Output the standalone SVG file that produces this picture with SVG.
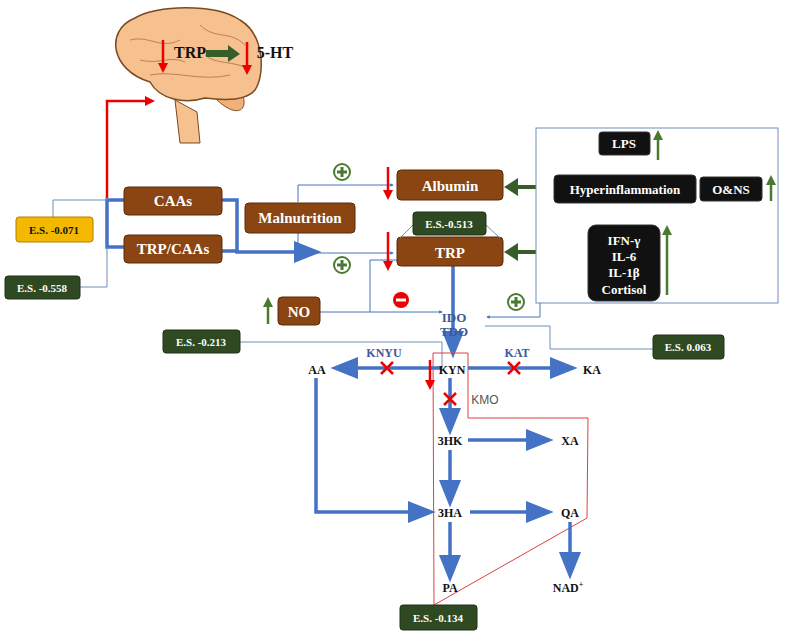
<svg xmlns="http://www.w3.org/2000/svg" width="789" height="639" viewBox="0 0 789 639">
<defs>
<style>
text{font-family:"Liberation Serif",serif;font-weight:bold}
.bx{fill:#8B4513;stroke:#5a2a0a;stroke-width:1}
.bt{fill:#fff;font-size:15px;text-anchor:middle}
.blk{fill:#111;stroke:#333}
.wt{fill:#fff;font-size:13px;text-anchor:middle}
.es{fill:#2f4a22;stroke:#1e3316}
.est{fill:#fff;font-size:11px;text-anchor:middle}
.k{fill:#111;font-size:12px;text-anchor:middle}
.thick{stroke:#4472C4;stroke-width:3.5;fill:none}
.thin{stroke:#4472C4;stroke-width:1;fill:none}
.thinb{stroke:#6d8fb8;stroke-width:1;fill:none}
.red{stroke:#e00;stroke-width:2.5;fill:none}
.grn{stroke:#4a7a30;stroke-width:2.5;fill:none}
.gold{stroke:#c8900a;stroke-width:3;fill:none}
.x{stroke:#e00;stroke-width:2.5}
.enz{fill:#3b5a9a;font-size:12px;text-anchor:middle}
</style>
<marker id="ab" viewBox="0 0 10 10" refX="8" refY="5" markerWidth="3.5" markerHeight="3.5" orient="auto"><path d="M0,0L10,5L0,10z" fill="#4472C4"/></marker>
<marker id="at" viewBox="0 0 10 10" refX="8" refY="5" markerWidth="8" markerHeight="8" orient="auto"><path d="M0,1L10,5L0,9z" fill="#4472C4"/></marker>
<marker id="ar" viewBox="0 0 10 10" refX="5" refY="5" markerWidth="4" markerHeight="4" orient="auto"><path d="M0,0L10,5L0,10z" fill="#e00"/></marker>
<marker id="ag" viewBox="0 0 10 10" refX="5" refY="5" markerWidth="4" markerHeight="4" orient="auto"><path d="M0,0L10,5L0,10z" fill="#4a7a30"/></marker>
<marker id="ao" viewBox="0 0 10 10" refX="5" refY="5" markerWidth="3.5" markerHeight="3.5" orient="auto"><path d="M0,0L10,5L0,10z" fill="#c8900a"/></marker>
</defs>

<g id="brain">
<path d="M175,100 L180,143 L200,143 L197,112 Z" fill="#f6c08f" stroke="#7a4a20"/>
<path d="M215,98 C235,118 248,112 243,96 Z" fill="#f0b07a" stroke="#7a4a20"/>
<path d="M150,82 C110,70 105,30 135,18 C155,5 215,3 240,20 C265,35 265,75 255,90 C245,102 220,100 205,98 C185,104 160,100 150,82 Z" fill="#f6c08f" stroke="#7a4a20" stroke-width="1.5"/>
<path d="M130,40 C150,35 160,50 180,40 M200,25 C215,40 230,30 245,45 M150,75 C175,70 200,82 230,75 M140,60 C160,65 170,55 185,62 M205,55 C215,65 235,60 250,70" stroke="#b07040" fill="none" stroke-width="0.8"/>
<line x1="163" y1="40" x2="163" y2="68" class="red" marker-end="url(#ar)"/>
<line x1="247" y1="42" x2="247" y2="70" class="red" marker-end="url(#ar)"/>
<text x="190" y="58" style="font-size:16px;fill:#111;text-anchor:middle">TRP</text>
<path d="M206,50 L228,50 L228,45 L240,54 L228,62 L228,57 L206,57 Z" fill="#355e2b"/>
<text x="275" y="58" style="font-size:16px;fill:#111;text-anchor:middle">5-HT</text>
</g>

<g id="connectors">
<polyline points="107,198 107,101 150,101" class="red" marker-end="url(#ar)"/>
<polyline points="124,200 107,200 107,247 124,247" class="thick"/>
<polyline points="53,217 53,200 107,200" class="thinb"/>
<polyline points="80,287 107,287 107,247" class="thinb"/>
<polyline points="222,200 237,200 237,252 316,252" class="thick" marker-end="url(#at)"/>
<line x1="222" y1="251" x2="237" y2="251" class="thick"/>
<polyline points="298,202 298,185 393,185" class="thin" marker-end="url(#ab)"/>
<polyline points="298,232 298,253 393,253" class="thin" marker-end="url(#ab)"/>
<polyline points="397,260 370,260 370,312" class="thin"/>
<line x1="320" y1="312" x2="442" y2="312" class="thin" marker-end="url(#ab)"/>
<line x1="453" y1="266" x2="453" y2="353" class="thick" marker-end="url(#at)"/>
<polyline points="540,303 540,317 487,317" class="thin" marker-end="url(#ab)"/>
<polyline points="485,326 550,326 550,349 653,349" class="thinb"/>
<polyline points="240,342 442,342 442,368" class="thinb"/>
<path d="M536,185 L518,185 L518,178 L504,187 L518,196 L518,189 L536,189 Z" fill="#355e2b"/>
<path d="M536,250 L518,250 L518,243 L504,252 L518,261 L518,254 L536,254 Z" fill="#355e2b"/>
<line x1="625" y1="155" x2="625" y2="173" class="gold" marker-end="url(#ao)"/>
<line x1="625" y1="203" x2="625" y2="223" class="gold" marker-end="url(#ao)"/>
<polyline points="433,353 468,353 468,418 588,418 587,518 434,605 433,353" fill="none" stroke="#e04040" stroke-width="1"/>
<line x1="442" y1="368" x2="336" y2="368" class="thick" marker-end="url(#at)"/>
<line x1="468" y1="368" x2="572" y2="368" class="thick" marker-end="url(#at)"/>
<line x1="450" y1="378" x2="450" y2="430" class="thick" marker-end="url(#at)"/>
<line x1="468" y1="440" x2="548" y2="440" class="thick" marker-end="url(#at)"/>
<line x1="450" y1="450" x2="450" y2="502" class="thick" marker-end="url(#at)"/>
<polyline points="316,378 316,512 430,512" class="thick" marker-end="url(#at)"/>
<line x1="470" y1="512" x2="548" y2="512" class="thick" marker-end="url(#at)"/>
<line x1="450" y1="522" x2="450" y2="577" class="thick" marker-end="url(#at)"/>
<line x1="570" y1="522" x2="570" y2="574" class="thick" marker-end="url(#at)"/>
</g>

<g id="caas"><rect x="124" y="187" width="98" height="28" rx="4" class="bx"/><text x="173" y="206" class="bt">CAAs</text></g>
<g id="trpcaas"><rect x="124" y="235" width="98" height="28" rx="4" class="bx"/><text x="173" y="254" class="bt">TRP/CAAs</text></g>
<g id="malnutrition"><rect x="245" y="203" width="110" height="30" rx="4" class="bx"/><text x="300" y="223" class="bt">Malnutrition</text></g>
<g id="albumin"><rect x="397" y="170" width="106" height="30" rx="4" class="bx"/><text x="450" y="191" class="bt">Albumin</text>
<line x1="388" y1="167" x2="388" y2="195" class="red" marker-end="url(#ar)"/></g>
<g id="trp"><rect x="397" y="237" width="106" height="29" rx="4" class="bx"/><text x="450" y="258" class="bt">TRP</text>
<line x1="388" y1="232" x2="388" y2="266" class="red" marker-end="url(#ar)"/>
<line x1="413" y1="225" x2="400" y2="238" class="thinb"/><line x1="486" y1="225" x2="500" y2="238" class="thinb"/>
<rect x="413" y="212" width="73" height="23" rx="3" class="es"/><text x="449" y="228" class="est">E.S.-0.513</text></g>
<g id="inflambox"><rect x="536" y="128" width="242" height="175" fill="#fff" stroke="#6d8fb8"/>
<rect x="599" y="132" width="51" height="23" rx="3" class="blk"/><text x="624" y="148" class="wt">LPS</text>
<line x1="658" y1="160" x2="658" y2="135" class="grn" marker-end="url(#ag)"/>
<rect x="554" y="175" width="142" height="28" rx="4" class="blk"/><text x="625" y="194" class="wt">Hyperinflammation</text>
<rect x="700" y="177" width="62" height="24" rx="3" class="blk"/><text x="731" y="194" class="wt">O&amp;NS</text>
<line x1="771" y1="201" x2="771" y2="180" class="grn" marker-end="url(#ag)"/>
<rect x="588" y="225" width="72" height="76" rx="8" class="blk"/>
<text x="624" y="245" class="wt">IFN-γ</text><text x="624" y="261" class="wt">IL-6</text><text x="624" y="277" class="wt">IL-1β</text><text x="624" y="294" class="wt">Cortisol</text>
<line x1="667" y1="295" x2="667" y2="230" class="grn" marker-end="url(#ag)"/></g>
<g id="no"><rect x="278" y="297" width="42" height="28" rx="4" class="bx"/><text x="299" y="317" class="bt">NO</text>
<line x1="268" y1="324" x2="268" y2="302" class="grn" marker-end="url(#ag)"/></g>
<g id="signs">
<circle cx="342" cy="172" r="8" fill="#fff" stroke="#4a7a30" stroke-width="2"/><path d="M342,167v10M337,172h10" stroke="#4a7a30" stroke-width="3"/>
<circle cx="342" cy="265" r="8" fill="#fff" stroke="#4a7a30" stroke-width="2"/><path d="M342,260v10M337,265h10" stroke="#4a7a30" stroke-width="3"/>
<circle cx="516" cy="302" r="8" fill="#fff" stroke="#4a7a30" stroke-width="2"/><path d="M516,297v10M511,302h10" stroke="#4a7a30" stroke-width="3"/>
<circle cx="401" cy="300" r="8" fill="#e00"/><path d="M396,300h10" stroke="#fff" stroke-width="3"/>
</g>
<g id="es"><rect x="16" y="217" width="77" height="25" rx="3" fill="#f5b800" stroke="#b08000"/><text x="54" y="234" class="est" style="fill:#111">E.S. -0.071</text>
<rect x="5" y="276" width="75" height="23" rx="3" class="es"/><text x="42" y="292" class="est">E.S. -0.558</text>
<rect x="163" y="330" width="77" height="23" rx="3" class="es"/><text x="201" y="346" class="est">E.S. -0.213</text>
<rect x="653" y="335" width="71" height="24" rx="3" class="es"/><text x="688" y="351" class="est">E.S. 0.063</text>
<rect x="400" y="605" width="77" height="25" rx="3" class="es"/><text x="438" y="622" class="est">E.S. -0.134</text></g>
<g id="pathway">
<text x="454" y="322" class="enz" style="font-size:13px">IDO</text><text x="454" y="336" class="enz" style="font-size:13px">TDO</text>
<text x="452" y="374" class="k">KYN</text><text x="317" y="374" class="k">AA</text><text x="592" y="374" class="k">KA</text>
<text x="450" y="445" class="k">3HK</text><text x="570" y="445" class="k">XA</text>
<text x="450" y="517" class="k">3HA</text><text x="570" y="517" class="k">QA</text>
<text x="450" y="592" class="k">PA</text><text x="568" y="592" class="k">NAD<tspan dy="-5" style="font-size:8px">+</tspan></text>
<text x="384" y="357" class="enz">KNYU</text><text x="517" y="357" class="enz">KAT</text>
<text x="485" y="404" style="font-family:'Liberation Sans',sans-serif;font-weight:normal;fill:#555;font-size:12px;text-anchor:middle">KMO</text>
<path d="M381,362l12,12M393,362l-12,12M508,362l12,12M520,362l-12,12M444,393l12,12M456,393l-12,12" class="x"/>
<line x1="430" y1="360" x2="430" y2="385" class="red" marker-end="url(#ar)"/>
</g>
</svg>
